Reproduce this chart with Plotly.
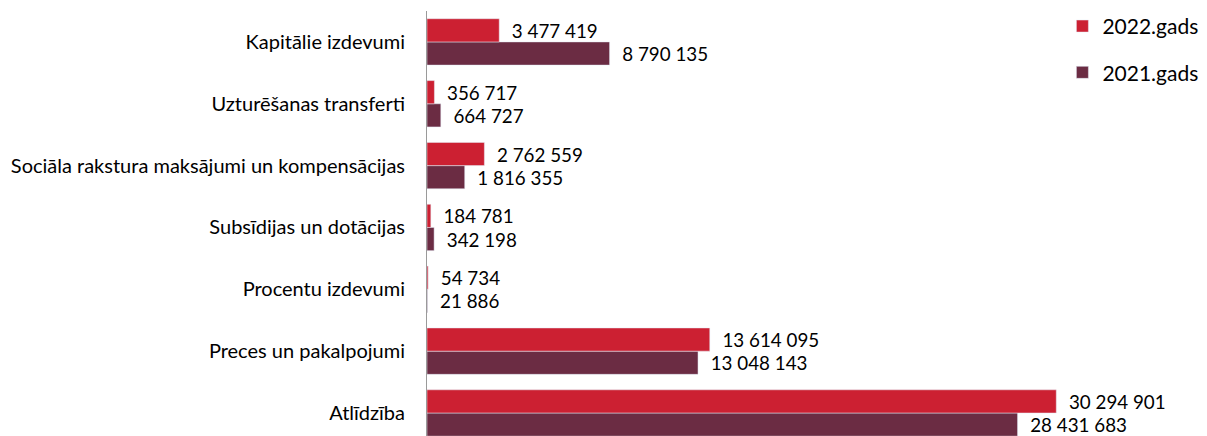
import plotly.graph_objects as go

categories = [
    "Atlīdzība",
    "Preces un pakalpojumi",
    "Procentu izdevumi",
    "Subsīdijas un dotācijas",
    "Sociāla rakstura maksājumi un kompensācijas",
    "Uzturēšanas transferti",
    "Kapitālie izdevumi",
]
values_2022 = [30294901, 13614095, 54734, 184781, 2762559, 356717, 3477419]
values_2021 = [28431683, 13048143, 21886, 342198, 1816355, 664727, 8790135]

def fmt(v):
    return "  " + f"{v:,}".replace(",", " ")

FONT = "Lato, Carlito, Calibri, sans-serif"
VAL_SIZE = 18.8

fig = go.Figure()
fig.add_trace(go.Bar(
    y=categories, x=values_2021, orientation="h", name="2021.gads",
    marker_color="#6B2C43", text=[fmt(v) for v in values_2021],
    textposition="outside", cliponaxis=False, legendrank=2, legendgroup="b",
    textfont=dict(size=VAL_SIZE, color="#000000", family=FONT),
))
fig.add_trace(go.Bar(
    y=categories, x=values_2022, orientation="h", name="2022.gads",
    marker_color="#CC2032", text=[fmt(v) for v in values_2022],
    textposition="outside", cliponaxis=False, legendrank=1, legendgroup="a",
    textfont=dict(size=VAL_SIZE, color="#000000", family=FONT),
))

# page body has an 8px default margin; compensate so the plot sits where the reference has it
fig.update_layout(
    width=1199, height=428,
    margin=dict(l=419, r=53, t=3, b=0, autoexpand=False),
    barmode="group", bargap=0.25, bargroupgap=0,
    plot_bgcolor="white", paper_bgcolor="white",
    font=dict(family=FONT, size=20, color="#000000"),
    showlegend=True,
    legend=dict(x=0.874, y=1.012, xanchor="left", yanchor="top",
                traceorder="grouped", tracegroupgap=16,
                font=dict(size=21, family=FONT), bgcolor="rgba(0,0,0,0)"),
)
fig.update_xaxes(range=[0, 35000000], visible=False, showgrid=False, automargin=False)
fig.update_yaxes(range=[-0.372, 6.5], showgrid=False, showline=True, automargin=False,
                 linecolor="#9A9A9A", linewidth=1, ticks="", ticklabelstandoff=17,
                 tickfont=dict(size=20, family=FONT))

fig.write_html("out.html")
